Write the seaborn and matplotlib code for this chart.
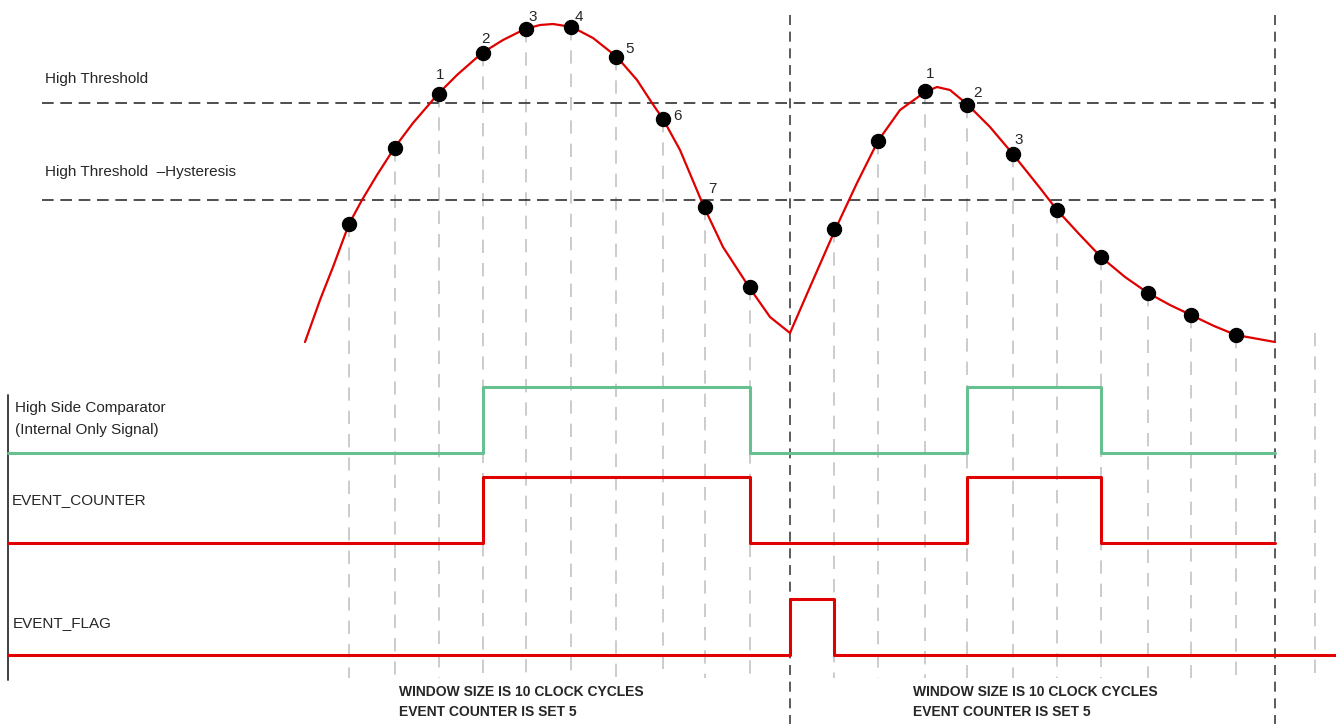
import matplotlib
matplotlib.use("Agg")
import matplotlib.pyplot as plt
import seaborn as sns

# analog signal (x = time, y = level, screen units)
curve1_x = [305, 320, 333, 349, 362, 377, 395, 413, 438, 457, 482, 503, 525, 540, 553,
            572, 593, 617, 637, 652, 663, 680, 704, 723, 749, 770, 790]
curve1_y = [342, 300, 267, 224, 200, 175, 147, 123, 94, 75, 53, 40, 29, 25, 24,
            27, 38, 57, 80, 103, 119, 150, 207, 247, 287, 317, 333]
curve2_x = [790, 810, 835, 857, 878, 900, 925, 937, 950, 968, 990, 1012, 1040, 1057,
            1080, 1101, 1125, 1148, 1170, 1191, 1214, 1236, 1275]
curve2_y = [333, 287, 230, 183, 141, 110, 92, 87, 90, 105, 127, 153, 188, 210,
            235, 257, 277, 293, 305, 315, 326, 335, 342]

# clock samples
sample_x = [349, 395, 439, 483, 526, 571, 616, 663, 705, 750,
            834, 878, 925, 967, 1013, 1057, 1101, 1148, 1191, 1236]
sample_y = [224, 148, 94, 53, 29, 27, 57, 119, 207, 287,
            229, 141, 91, 105, 154, 210, 257, 293, 315, 335]
count_labels = ["", "", "1", "2", "3", "4", "5", "6", "7", "",
                "", "", "1", "2", "3", "", "", "", "", ""]
label_offset = [(0, 0), (0, 0), (1, -19), (3, -14), (7, -12), (8, -10), (14, -8), (14, -3), (7, -18), (0, 0),
                (0, 0), (0, 0), (5, -17), (10, -12), (6, -14), (0, 0), (0, 0), (0, 0), (0, 0), (0, 0)]

high_threshold = 103
hysteresis = 200

# digital signals: edge times and level (1 high / 0 low)
comp_t = [8, 483, 750, 967, 1101, 1275]
comp_v = [0, 1, 0, 1, 0, 0]
counter_t = [8, 483, 750, 967, 1101, 1275]
counter_v = [0, 1, 0, 1, 0, 0]
flag_t = [8, 790, 834, 1336]
flag_v = [0, 1, 0, 0]

window_edges = [790, 1275]
window_lines = ["WINDOW SIZE IS 10 CLOCK CYCLES", "EVENT COUNTER IS SET 5"]
window_text_x = [399, 913]

RED = "#e00000"
GREEN = "#66c08f"

sns.set_style("white")
plt.rcParams["font.family"] = ["Liberation Sans", "DejaVu Sans"]

fig = plt.figure(figsize=(13.36, 7.24), dpi=100)
ax = fig.add_axes([0, 0, 1, 1])
ax.set_xlim(0, 1336)
ax.set_ylim(724, 0)
ax.axis("off")

# sample guide lines
for x, y in zip(sample_x, sample_y):
    ax.plot([x, x], [y, 678], color="#c4c4c4", lw=1.2, dashes=(8, 6), zorder=1)
ax.plot([1315, 1315], [333, 678], color="#c4c4c4", lw=1.2, dashes=(8, 6), zorder=1)

# window boundaries
for x in window_edges:
    ax.plot([x, x], [15, 724], color="#404040", lw=1.2, dashes=(6, 4), zorder=2)

# thresholds
for y in [high_threshold, hysteresis]:
    ax.plot([42, 1275], [y, y], color="#303030", lw=1.2, dashes=(7, 4), zorder=2)
ax.text(45, 79, "High Threshold", fontsize=11, va="center")
ax.text(45, 172, "High Threshold  \u2013Hysteresis", fontsize=11, va="center")

# analog signal
for cx, cy in [(curve1_x, curve1_y), (curve2_x, curve2_y)]:
    sns.lineplot(x=cx, y=cy, sort=False, color=RED, lw=1.6, ax=ax, zorder=3,
                 solid_joinstyle="round")
sns.scatterplot(x=sample_x, y=sample_y, color="black", s=105, edgecolor="black", ax=ax, zorder=4)
for x, y, lab, (dx, dy) in zip(sample_x, sample_y, count_labels, label_offset):
    if lab:
        ax.text(x + dx, y + dy, lab, fontsize=11, ha="center", va="center")

# digital traces
def trace(t, v, low, high, color):
    y = [low - (low - high) * s for s in v]
    sns.lineplot(x=t, y=y, sort=False, drawstyle="steps-post", color=color, lw=2.2, ax=ax, zorder=3)

trace(comp_t, comp_v, 453, 387, GREEN)
trace(counter_t, counter_v, 543, 477, RED)
trace(flag_t, flag_v, 655, 599, RED)

ax.plot([8, 8], [395, 680], color="#404040", lw=1.4, zorder=2)

ax.text(15, 408, "High Side Comparator", fontsize=11, va="center")
ax.text(15, 430, "(Internal Only Signal)", fontsize=11, va="center")
ax.text(12, 500, "EVENT_COUNTER", fontsize=11, va="center")
ax.text(13, 623, "EVENT_FLAG", fontsize=11, va="center")

for x in window_text_x:
    ax.text(x, 692, window_lines[0], fontsize=10, fontweight="bold", va="center")
    ax.text(x, 712, window_lines[1], fontsize=10, fontweight="bold", va="center")

fig.savefig("out.png", dpi=100)
